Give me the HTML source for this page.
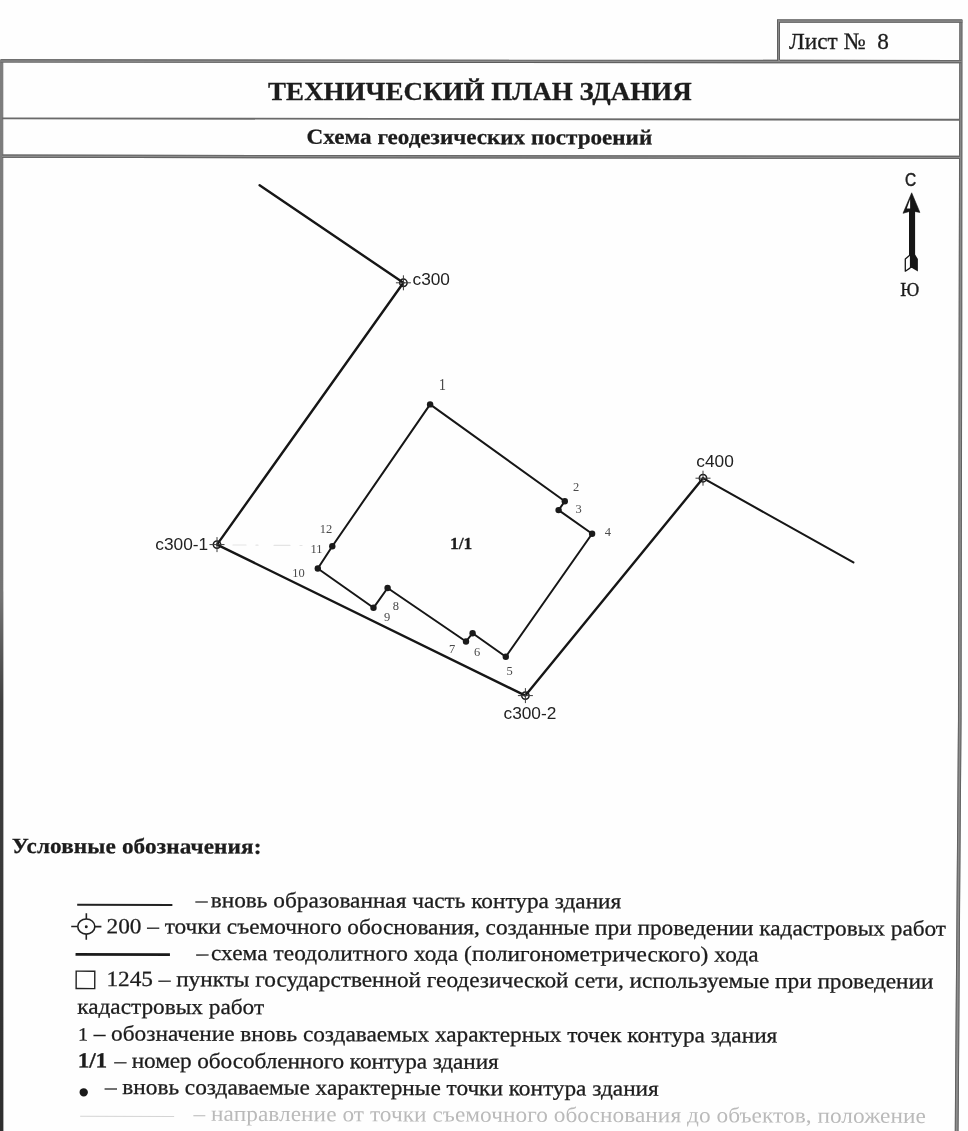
<!DOCTYPE html>
<html lang="ru">
<head>
<meta charset="utf-8">
<title>Технический план здания</title>
<style>
html,body{margin:0;padding:0;background:#fefefe;}
body{width:968px;height:1131px;overflow:hidden;position:relative;}
svg{position:absolute;left:0;top:0;display:block;}
.se{font-family:"Liberation Serif",serif;fill:#1c1c1c;stroke:#1c1c1c;stroke-width:0.3px;}
.sa{font-family:"Liberation Sans",sans-serif;fill:#222;}
.b{font-weight:bold;}
.n{font-family:"Liberation Serif",serif;fill:#4a4a4a;}
.f{fill:#bababa;stroke:none;}
</style>
</head>
<body>
<svg width="968" height="1131" viewBox="0 0 968 1131">
<defs>
<linearGradient id="lb" x1="0" y1="0" x2="0" y2="1">
<stop offset="0" stop-color="#7e7e7e"/>
<stop offset="0.5" stop-color="#747474"/>
<stop offset="0.6" stop-color="#404040"/>
<stop offset="1" stop-color="#2e2e2e"/>
</linearGradient>
<filter id="scan" x="0" y="0" width="968" height="1131" filterUnits="userSpaceOnUse" color-interpolation-filters="sRGB">
<feGaussianBlur stdDeviation="0.38"/>
</filter>
</defs>
<rect x="0" y="0" width="968" height="1131" fill="#fefefe"/>
<g filter="url(#scan)">

<g id="frame">
<polygon points="0,60 3.3,60 3.4,1131 0,1131" fill="url(#lb)"/>
<polygon points="959.4,20 958.7,320 958.0,720 956.6,900 955.0,1100 954.8,1131 958.5,1131 958.8,1100 960.1,900 961.5,720 962.2,320 962.4,20" fill="#8c8c8c"/>
<polyline points="959.85,20 959.15,320 958.45,720 957.05,900 955.45,1100 955.25,1131" fill="none" stroke="#5c5c5c" stroke-width="0.9"/>
<polyline points="961.95,20 961.75,320 961.05,720 959.65,900 958.35,1100 958.05,1131" fill="none" stroke="#5c5c5c" stroke-width="0.9"/>
<g transform="rotate(0.04 0 61)"><rect x="0.5" y="59.3" width="961" height="3.3" fill="#8c8c8c"/><rect x="0.5" y="59.3" width="961" height="0.9" fill="#5c5c5c"/><rect x="0.5" y="61.7" width="961" height="0.9" fill="#5c5c5c"/></g>
<g transform="rotate(0.085 0 118)"><rect x="2" y="117.45" width="958" height="1.8" fill="#6a6a6a"/></g>
<g transform="rotate(0.075 0 156)"><rect x="2" y="154.6" width="958" height="3.2" fill="#8c8c8c"/><rect x="2" y="154.6" width="958" height="0.9" fill="#5c5c5c"/><rect x="2" y="156.9" width="958" height="0.9" fill="#5c5c5c"/></g>
<rect x="777" y="19.4" width="185.3" height="3.3" fill="#8c8c8c"/><rect x="777" y="19.4" width="185.3" height="0.9" fill="#5c5c5c"/><rect x="777" y="21.8" width="185.3" height="0.9" fill="#5c5c5c"/>
<rect x="777" y="20" width="3" height="41" fill="#8a8a8a"/><rect x="777" y="20" width="0.9" height="41" fill="#5c5c5c"/><rect x="779.1" y="22" width="0.9" height="38" fill="#5c5c5c"/>
</g>
<text class="se" transform="translate(789,49) scale(1,1)" font-size="23.25" xml:space="preserve">Лист №  8</text>
<text class="se b" transform="translate(479.9,100.2) scale(1,0.93)" font-size="27" text-anchor="middle" xml:space="preserve">ТЕХНИЧЕСКИЙ ПЛАН ЗДАНИЯ</text>
<g transform="rotate(0.12 479 144)"><text class="se b" transform="translate(479.4,144.1) scale(1,0.93)" font-size="23.1" text-anchor="middle" xml:space="preserve">Схема геодезических построений</text></g>
<g id="plan" fill="none" stroke="#161616" stroke-linecap="round" stroke-linejoin="round">
<polyline points="259.6,185.2 403.4,282.8 217,544.6 525.4,695.6 703,478.2" stroke-width="2.4"/>
<line x1="703" y1="478.2" x2="853.4" y2="562.4" stroke-width="2.1"/>
<polygon points="430.1,404.4 564.8,501.2 558.6,510.1 592.1,533.7 505.8,656.8 472.6,633.2 466,641.5 387.6,588 373.5,607.8 317.8,568.5 332.3,546.2" stroke-width="2"/>
<path d="M233,545H246M256,545.2H258M274,545.3H290M300,545.5H302" stroke="#e4e4e4" stroke-width="1.2"/>
</g>
<g id="dots" fill="#1a1a1a">
<circle cx="430.1" cy="404.4" r="3.2"/>
<circle cx="564.8" cy="501.2" r="3.2"/>
<circle cx="558.6" cy="510.1" r="3.2"/>
<circle cx="592.1" cy="533.7" r="3.2"/>
<circle cx="505.8" cy="656.8" r="3.2"/>
<circle cx="472.6" cy="633.2" r="3.2"/>
<circle cx="466" cy="641.5" r="3.2"/>
<circle cx="387.6" cy="588" r="3.2"/>
<circle cx="373.5" cy="607.8" r="3.2"/>
<circle cx="317.8" cy="568.5" r="3.2"/>
<circle cx="332.3" cy="546.2" r="3.2"/>
</g>
<g id="stations" fill="none" stroke="#2a2a2a">
<g transform="translate(403.4,282.8)"><circle r="3.7" stroke-width="1.5" stroke="#1c1c1c"/><path d="M-7.5,0H7.5M0,-7.5V7.5" stroke="#3a3a3a" stroke-width="1"/></g>
<g transform="translate(217,544.6)"><circle r="3.7" stroke-width="1.5" stroke="#1c1c1c"/><path d="M-7.5,0H7.5M0,-7.5V7.5" stroke="#3a3a3a" stroke-width="1"/></g>
<g transform="translate(525.4,695.6)"><circle r="3.7" stroke-width="1.5" stroke="#1c1c1c"/><path d="M-7.5,0H7.5M0,-7.5V7.5" stroke="#3a3a3a" stroke-width="1"/></g>
<g transform="translate(703,478.2)"><circle r="3.7" stroke-width="1.5" stroke="#1c1c1c"/><path d="M-7.5,0H7.5M0,-7.5V7.5" stroke="#3a3a3a" stroke-width="1"/></g>
</g>
<text class="sa" transform="translate(412.5,285.2) scale(1,1)" font-size="17.3" xml:space="preserve">с300</text>
<text class="sa" transform="translate(155.3,549.6) scale(1,1)" font-size="17.3" xml:space="preserve">с300-1</text>
<text class="sa" transform="translate(503.5,719.3) scale(1,1)" font-size="17.3" xml:space="preserve">с300-2</text>
<text class="sa" transform="translate(696.3,467.4) scale(1,1)" font-size="17.3" xml:space="preserve">с400</text>
<text class="n" transform="translate(442.4,390.1) scale(1,1.08)" font-size="14.5" text-anchor="middle" xml:space="preserve">1</text>
<text class="n" transform="translate(576.2,490.7) scale(1,1.08)" font-size="12.5" text-anchor="middle" xml:space="preserve">2</text>
<text class="n" transform="translate(578.6,513) scale(1,1.08)" font-size="12.5" text-anchor="middle" xml:space="preserve">3</text>
<text class="n" transform="translate(607.8,535.7) scale(1,1.08)" font-size="12.5" text-anchor="middle" xml:space="preserve">4</text>
<text class="n" transform="translate(509.6,675) scale(1,1.08)" font-size="12.5" text-anchor="middle" xml:space="preserve">5</text>
<text class="n" transform="translate(477,656) scale(1,1.08)" font-size="12.5" text-anchor="middle" xml:space="preserve">6</text>
<text class="n" transform="translate(452.2,652.6) scale(1,1.08)" font-size="12.5" text-anchor="middle" xml:space="preserve">7</text>
<text class="n" transform="translate(395.9,609.8) scale(1,1.08)" font-size="12.5" text-anchor="middle" xml:space="preserve">8</text>
<text class="n" transform="translate(387.2,621) scale(1,1.08)" font-size="12.5" text-anchor="middle" xml:space="preserve">9</text>
<text class="n" transform="translate(298.4,577) scale(1,1.08)" font-size="12.5" text-anchor="middle" xml:space="preserve">10</text>
<text class="n" transform="translate(316.6,553.2) scale(1,1.08)" font-size="12.5" text-anchor="middle" xml:space="preserve">11</text>
<text class="n" transform="translate(326,533.3) scale(1,1.08)" font-size="12.5" text-anchor="middle" xml:space="preserve">12</text>
<text class="se b" transform="translate(450,548.5) scale(1,1)" font-size="17.5" xml:space="preserve">1/1</text>
<g id="north">
<path d="M911.7,192.8 L903,213.3 L911.5,210.9 L919.9,212.4 Z" fill="#161616" stroke="#161616" stroke-width="0.6" stroke-linejoin="round"/>
<path d="M910.1,199.3 L906.8,208.4 L910.1,208.4 Z" fill="#fefefe"/>
<rect x="909" y="209" width="6.1" height="54" fill="#161616"/>
<path d="M912,253 L915.2,254.7 L917.9,258.9 L917.9,271.6 L911.2,267.6 L910.4,254 Z" fill="#161616"/>
<path d="M910,255 L905.3,258.9 L905.3,271.2 L910.3,267.9" fill="#fefefe" stroke="#161616" stroke-width="1.3" stroke-linejoin="round"/>
<rect x="909.9" y="254" width="2" height="14" fill="#161616"/>
</g>
<text class="sa" transform="translate(910.6,186.3) scale(0.88,1)" font-size="17.6" text-anchor="middle" stroke="#222" stroke-width="0.45">С</text>
<text class="se" transform="translate(909.7,296.4) scale(1,1)" font-size="18.5" text-anchor="middle" xml:space="preserve">Ю</text>
<g transform="rotate(0.17 100 1000)">
<text class="se b" transform="translate(11.4,853.2) scale(1,0.93)" font-size="23.2" textLength="249.68" id="hd" xml:space="preserve">Условные обозначения:</text>
<rect x="76.9" y="903.7" width="95.2" height="2.1" fill="#222"/>
<text class="se" transform="translate(195.5,906.8) scale(1,0.93)" font-size="23.3" textLength="425.52" id="r1" xml:space="preserve">–<tspan dx="-2.5"> вновь образованная часть контура здания</tspan></text>
<g fill="none" stroke="#222" stroke-width="1.6"><ellipse cx="86.1" cy="926.6" rx="8.55" ry="7.55"/><path d="M71,926.6H77.5M94.7,926.6H101.2M86.1,913.2V919M86.1,934.2V939.7"/></g>
<circle cx="86.1" cy="926.7" r="1.5" fill="#222"/>
<text class="se" transform="translate(106.4,933.2) scale(1,0.93)" font-size="23.3" textLength="839.46" id="r2" xml:space="preserve">200 – точки съемочного обоснования, созданные при проведении кадастровых работ</text>
<rect x="75.4" y="953.1" width="94.4" height="2.7" fill="#1a1a1a"/>
<text class="se" transform="translate(196.4,959.7) scale(1,0.93)" font-size="23.3" textLength="561.98" id="r3" xml:space="preserve">–<tspan dx="-3.2"> схема теодолитного хода (полигонометрического) хода</tspan></text>
<rect x="76.1" y="971.2" width="18.6" height="17.4" fill="none" stroke="#222" stroke-width="1.4"/>
<text class="se" transform="translate(106.4,986) scale(1,0.93)" font-size="23.3" textLength="827.08" id="r4" xml:space="preserve">1245 – пункты государственной геодезической сети, используемые при проведении</text>
<text class="se" transform="translate(77.3,1013.7) scale(1,0.93)" font-size="23.3" textLength="186.80" id="r5" xml:space="preserve">кадастровых работ</text>
<text class="se" transform="translate(78.0,1040.5) scale(1,0.93)" font-size="23.3" textLength="699.46" id="r6" xml:space="preserve"><tspan font-size="20">1</tspan> – обозначение вновь создаваемых характерных точек контура здания</text>
<text class="se" transform="translate(77.9,1067.6) scale(1,0.93)" font-size="23.3" textLength="421.08" id="r7" xml:space="preserve"><tspan font-weight="bold">1/1</tspan><tspan dx="1.5"> – номер обособленного контура здания</tspan></text>
<circle cx="84" cy="1092.4" r="4.2" fill="#1a1a1a"/>
<text class="se" transform="translate(105.2,1094) scale(1,0.93)" font-size="23.3" textLength="553.85" id="r8" xml:space="preserve">– вновь создаваемые характерные точки контура здания</text>
<rect x="80.5" y="1115.7" width="94" height="1" fill="#d4d4d4"/>
<text class="se f" transform="translate(193.9,1120.5) scale(1,0.93)" font-size="23.3" textLength="732.22" id="r9" xml:space="preserve">– направление от точки съемочного обоснования до объектов, положение</text>
</g>
</g>
</svg>
</body>
</html>
